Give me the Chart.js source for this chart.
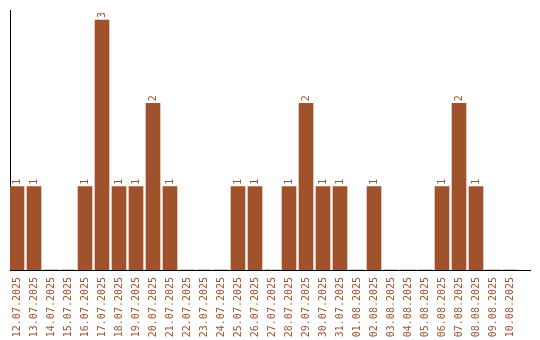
<!DOCTYPE html>
<html>
<head>
<meta charset="utf-8">
<script src="https://cdn.jsdelivr.net/npm/chart.js@4/dist/chart.umd.min.js"></script>
<style>
  html, body { margin: 0; padding: 0; background: #fff; }
  #wrap { width: 540px; height: 340px; }
</style>
</head>
<body>
<div id="wrap"><canvas id="chart"></canvas></div>
<script>
// days and counts
var days = [
  '12.07.2025', '13.07.2025', '14.07.2025', '15.07.2025', '16.07.2025',
  '17.07.2025', '18.07.2025', '19.07.2025', '20.07.2025', '21.07.2025',
  '22.07.2025', '23.07.2025', '24.07.2025', '25.07.2025', '26.07.2025',
  '27.07.2025', '28.07.2025', '29.07.2025', '30.07.2025', '31.07.2025',
  '01.08.2025', '02.08.2025', '03.08.2025', '04.08.2025', '05.08.2025',
  '06.08.2025', '07.08.2025', '08.08.2025', '09.08.2025', '10.08.2025'
];
var counts = [1, 1, 0, 0, 1, 3, 1, 1, 2, 1, 0, 0, 0, 1, 1, 0, 1, 2, 1, 1, 0, 1, 0, 0, 0, 1, 2, 1, 0, 0];

var brown = '#a0522d';
var monoFont = { family: 'DejaVu Sans Mono', size: 10 };

// value above each bar, rotated like the axis labels
var valueLabels = {
  id: 'valueLabels',
  afterDatasetsDraw: function (chart) {
    var ctx = chart.ctx;
    var meta = chart.getDatasetMeta(0);
    ctx.save();
    ctx.fillStyle = brown;
    ctx.font = '10px "DejaVu Sans Mono"';
    ctx.textAlign = 'left';
    ctx.textBaseline = 'middle';
    meta.data.forEach(function (bar, i) {
      if (!counts[i]) return;
      ctx.save();
      ctx.translate(bar.x, bar.y - 2);
      ctx.rotate(-Math.PI / 2);
      ctx.fillText(String(counts[i]), 0, 0);
      ctx.restore();
    });
    ctx.restore();
  }
};

var ctx = document.getElementById('chart').getContext('2d');
var chart = new Chart(ctx, {
  type: 'bar',
  data: {
    datasets: [{
      data: counts.map(function (c, i) { return { x: i, y: c }; }),
      backgroundColor: brown,
      barThickness: 14
    }]
  },
  plugins: [valueLabels],
  options: {
    responsive: true,
    maintainAspectRatio: false,
    animation: false,
    layout: { padding: { left: 10, right: 10, top: 10, bottom: 0 } },
    plugins: {
      legend: { display: false },
      tooltip: { enabled: false }
    },
    scales: {
      x: {
        type: 'linear',
        offset: false,
        min: -7 / 17,
        max: -7 / 17 + 520 / 17,
        afterBuildTicks: function (axis) {
          axis.ticks = days.map(function (d, i) { return { value: i }; });
        },
        afterFit: function (axis) { axis.height = 70; },
        grid: { display: false, drawTicks: false },
        border: { display: true, color: '#000', width: 1 },
        ticks: {
          autoSkip: false,
          minRotation: 90,
          maxRotation: 90,
          padding: 7,
          color: brown,
          font: monoFont,
          callback: function (v) { return days[v]; }
        }
      },
      y: {
        min: 0,
        max: 3.12,
        afterFit: function (axis) { axis.width = 0; },
        grid: { display: false, drawTicks: false },
        border: { display: true, color: '#000', width: 1 },
        ticks: { display: false }
      }
    }
  }
});
</script>
</body>
</html>
